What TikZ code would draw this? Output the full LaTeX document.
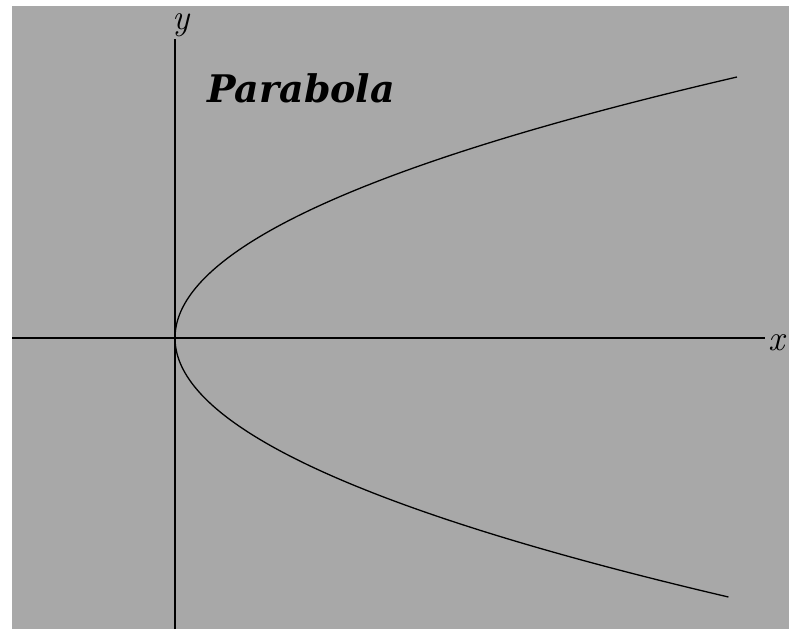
\documentclass[tikz,border=0pt]{standalone}
\usepackage{fontspec}
\usepackage{tikz}
\usepackage{xcolor}
\usetikzlibrary{calc}
\newfontfamily\titlefont{DejaVu Serif}
\definecolor{paper}{RGB}{168,168,168}
\tikzset{
  axis/.style={line width=1.4pt, black},
  curve/.style={line width=1.3pt, black},
  axislabel/.style={font=\fontsize{36}{36}\selectfont\itshape, inner sep=0pt},
}

\begin{document}
\begin{tikzpicture}[x=1pt, y=1pt]
  \useasboundingbox (0,0) rectangle (789,629);
  \fill[white] (0,0) rectangle (789,629);
  \fill[paper] (12,0) rectangle (789,623);
  % axes
  \coordinate (O) at (175,291);
  \coordinate (xl) at (12,291);
  \coordinate (xr) at (765,291);
  \coordinate (yb) at (175,0);
  \coordinate (yt) at (175,590);
  \draw[axis] (xl) -- (xr);
  \draw[axis] (yb) -- (yt);
  \node[axislabel, anchor=base west] (xlab) at (768,278) {x};
  \node[axislabel, anchor=north] (ylab) at (181,616) {y};
  % the curve
  \draw[curve] plot[smooth, domain=-259:261, samples=80]
    ({175 + 562*(\x/261)*(\x/261)}, {291 + \x});
  \node[font=\titlefont\fontsize{38}{40}\selectfont\bfseries\itshape, anchor=base west, inner sep=0pt]
    (title) at (207,526) {Parabola};
\end{tikzpicture}
\end{document}
